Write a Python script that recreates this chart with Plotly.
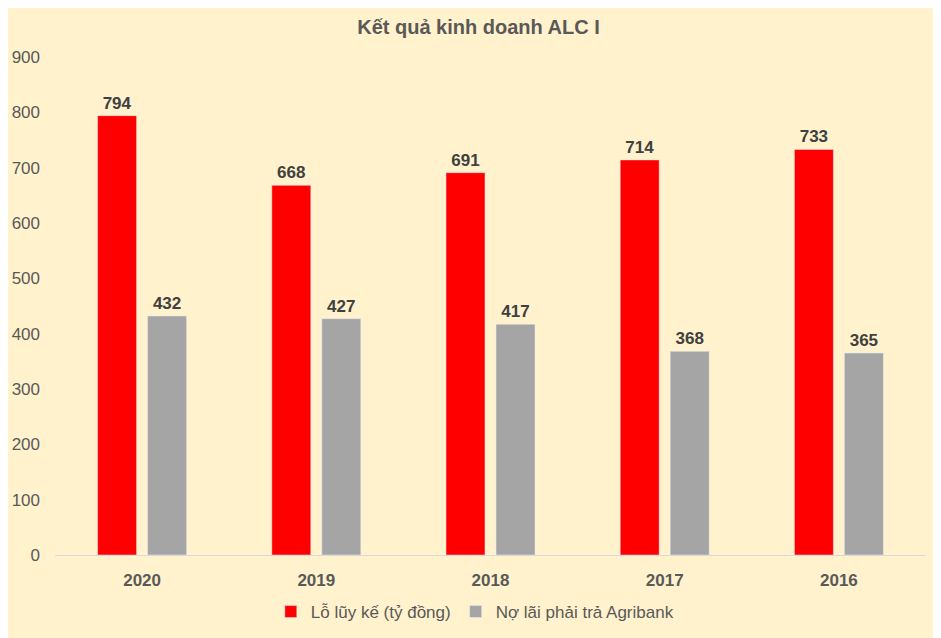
import plotly.graph_objects as go

years = ["2020", "2019", "2018", "2017", "2016"]
lo_luy_ke = [794, 668, 691, 714, 733]
no_lai = [432, 427, 417, 368, 365]
y_ticks = [0, 100, 200, 300, 400, 500, 600, 700, 800, 900]

FONT = "Liberation Sans, Arial, sans-serif"
TXT = "#595959"

fig = go.Figure()
fig.add_trace(go.Bar(
    x=years, y=lo_luy_ke, name="Lỗ lũy kế (tỷ đồng)",
    marker_color="#FF0000",
    text=lo_luy_ke, textposition="outside",
    textfont=dict(family=FONT, size=17, color="#404040", weight="bold"),
    cliponaxis=False,
))
fig.add_trace(go.Bar(
    x=years, y=no_lai, name="Nợ lãi phải trả Agribank",
    marker_color="#A5A5A5",
    text=no_lai, textposition="outside",
    textfont=dict(family=FONT, size=17, color="#404040", weight="bold"),
    cliponaxis=False,
))

fig.update_layout(
    width=941, height=638,
    paper_bgcolor="#FFF2CC", plot_bgcolor="#FFF2CC",
    margin=dict(l=47, r=23, t=49, b=91, autoexpand=False),
    barmode="group", bargap=0.426, bargroupgap=0.22,
    font=dict(family=FONT, color=TXT),
    title=dict(text="Kết quả kinh doanh ALC I", x=0.5, xanchor="center",
               y=0.970, yanchor="middle",
               font=dict(family=FONT, size=20, color=TXT, weight="bold")),
    showlegend=True,
    legend=dict(orientation="h", x=0.482, xanchor="center", y=-0.1145, yanchor="middle",
                font=dict(family=FONT, size=17, color=TXT), traceorder="normal",
                itemwidth=30),
    xaxis=dict(showgrid=False, showline=True, linecolor="#D9D9D9", linewidth=1,
               ticks="", ticklabelstandoff=10, automargin=False,
               tickfont=dict(family=FONT, size=17, color=TXT, weight="bold")),
    yaxis=dict(range=[0, 900], tickvals=y_ticks, showgrid=False, zeroline=False,
               showline=False, ticks="", ticklabelstandoff=14, automargin=False,
               tickfont=dict(family=FONT, size=17, color=TXT)),
)

fig.write_html("out.html")
